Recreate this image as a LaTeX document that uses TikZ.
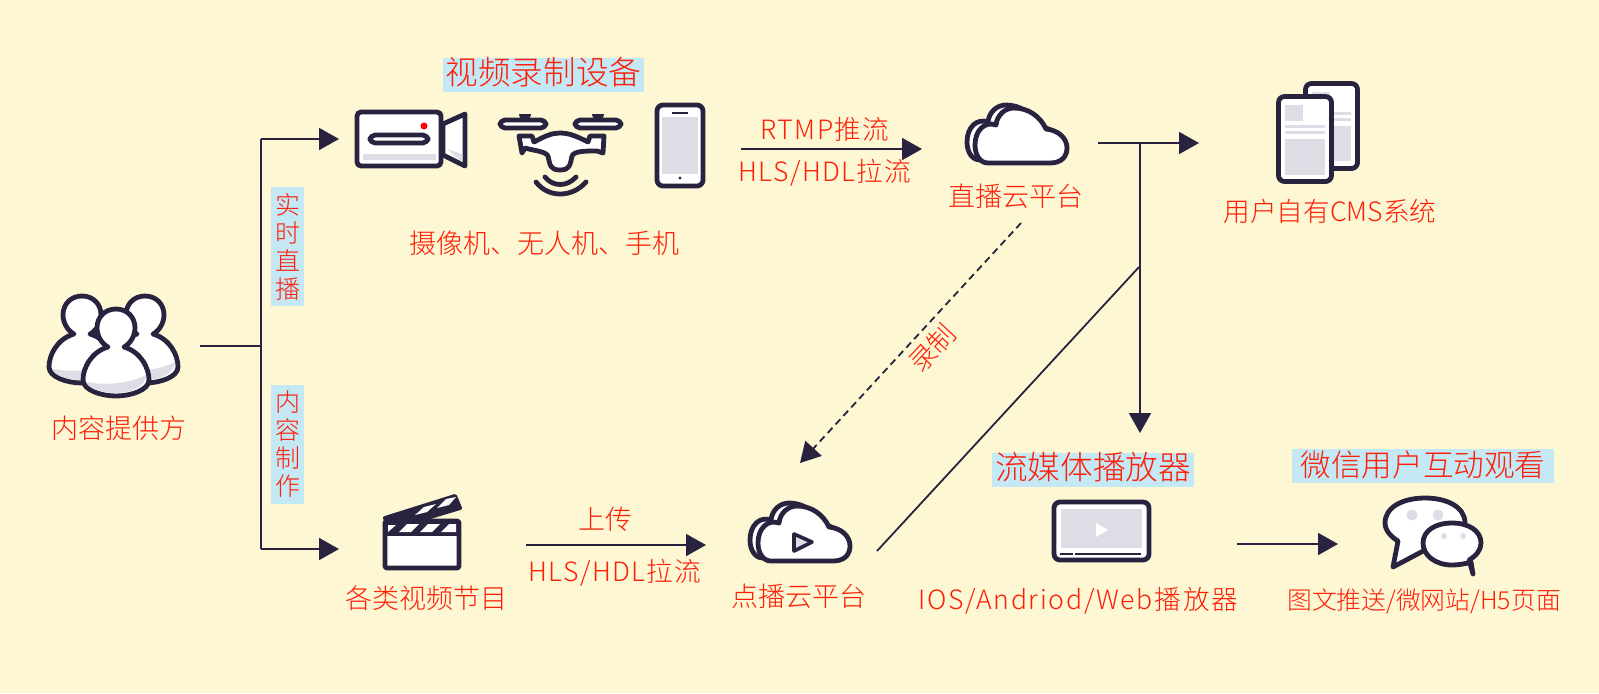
\documentclass[tikz,border=0pt]{standalone}
\usepackage{fontspec}
\setmainfont{Noto Sans CJK SC}[UprightFont=* Light]
\newfontfamily\spacedfont{Noto Sans CJK SC}[UprightFont=* Light,LetterSpace=5]
\usetikzlibrary{arrows.meta}
\definecolor{paper}{HTML}{FDF7D3}
\definecolor{ink}{HTML}{2A2340}
\definecolor{redtext}{HTML}{FF1E08}
\definecolor{skybox}{HTML}{C5E8F5}
\definecolor{mist}{HTML}{DFDCE6}

\tikzset{
    label node/.style={text=redtext,inner sep=0pt,font=\fontsize{13.5}{16}\selectfont,text height=11pt,text depth=2pt},
    wide node/.style={label node,font=\fontsize{13.3}{16}\selectfont\spacedfont},
    small node/.style={label node,font=\fontsize{12.4}{16}\selectfont},
    title node/.style={label node,fill=skybox,font=\fontsize{16.3}{18}\selectfont,text height=12.5pt,text depth=2.5pt,text width=#1,align=center,minimum height=17pt},
    side node/.style={text=redtext,fill=skybox,inner sep=0pt,align=center,minimum width=16.5pt,minimum height=59.5pt,font=\fontsize{12.5}{14}\selectfont},
    flow/.style={draw=ink,line width=0.9pt,-{Triangle[length=10pt,width=11pt]}},
    plain flow/.style={draw=ink,line width=0.9pt},
    icon/.style={draw=ink,line width=2.4pt,line join=round,fill=white},
    person/.pic={
      \path[icon] (-8,19) .. controls (-25,24) and (-33,40) .. (-33,52) .. controls (-33,62) and (-15,68) .. (0,68)
        .. controls (15,68) and (33,62) .. (33,52) .. controls (33,40) and (25,24) .. (8,19)
        .. controls (14,16) and (19,8) .. (19,0) .. controls (19,-11) and (11,-19) .. (0,-19)
        .. controls (-11,-19) and (-19,-11) .. (-19,0) .. controls (-19,8) and (-14,16) .. (-8,19) -- cycle;
      \fill[mist] (-29,54) .. controls (-10,58) and (15,55) .. (30,47) .. controls (30,58) and (15,65) .. (0,65) .. controls (-15,65) and (-29,60) .. (-29,54) -- cycle;
    },
    cloud/.pic={
      \path[icon,shift={(-8,-3)}] (988,163) -- (1050,163) .. controls (1062,163) and (1067,156) .. (1067,148)
        .. controls (1067,138) and (1058,130) .. (1046,129) .. controls (1040,116) and (1028,108) .. (1014,108)
        .. controls (1005,108) and (997,115) .. (996,125) .. controls (985,121) and (975,130) .. (975,145)
        .. controls (975,155) and (980,163) .. (988,163) -- cycle;
      \path[icon] (988,163) -- (1050,163) .. controls (1062,163) and (1067,156) .. (1067,148)
        .. controls (1067,138) and (1058,130) .. (1046,129) .. controls (1040,116) and (1028,108) .. (1014,108)
        .. controls (1005,108) and (997,115) .. (996,125) .. controls (985,121) and (975,130) .. (975,145)
        .. controls (975,155) and (980,163) .. (988,163) -- cycle;
    }
}

\begin{document}
\begin{tikzpicture}[x=0.5pt,y=-0.5pt]
    \fill[paper] (0,0) rectangle (1599,693);

    % connector ends
    \coordinate (src) at (200,346);
    \coordinate (hub) at (261,346);
    \coordinate (hubtop) at (261,139);
    \coordinate (hubbot) at (261,549);
    \coordinate (camin) at (339,139);
    \coordinate (clapin) at (339,549);
    \coordinate (rtmpa) at (741,149);
    \coordinate (rtmpb) at (922,149);
    \coordinate (livea) at (1098,143);
    \coordinate (cmsin) at (1199,143);
    \coordinate (split) at (1140,143);
    \coordinate (playerin) at (1140,433);
    \coordinate (diagtop) at (1139,267);
    \coordinate (diagbot) at (877,551);
    \coordinate (dasha) at (1021,223);
    \coordinate (dashb) at (800,463);
    \coordinate (upa) at (526,545);
    \coordinate (upb) at (706,545);
    \coordinate (wxa) at (1237,544);
    \coordinate (wxb) at (1338,544);

    % people
    \pic at (82,315) {person};
    \pic at (145,315) {person};
    \pic at (116,328) {person};

    % camera
    \path[icon,rounded corners=2pt] (357,112) rectangle (441,166);
    \fill[mist] (363,154) rectangle (436,160);
    \path[icon] (443,124) -- (465,114) -- (465,166) -- (443,155) -- cycle;
    \fill[mist] (447,149) -- (462,154) -- (462,162) -- cycle;
    \path[icon,rounded corners=2.6pt] (370,135) rectangle (428,143);
    \fill[red] (424,126) circle[radius=3.5];

    % drone
    \path[icon,rounded corners=2.5pt] (500,120) rectangle (546,128);
    \path[icon,rounded corners=2.5pt] (575,120) rectangle (621,128);
    \fill[ink] (519,114) arc[start angle=180,end angle=0,radius=6] -- cycle;
    \fill[ink] (592,114) arc[start angle=180,end angle=0,radius=6] -- cycle;
    \path[icon] (519,136) -- (532,136) -- (534,142) .. controls (545,136) and (552,133) .. (560,133)
      .. controls (570,133) and (578,137) .. (588,142) -- (590,136) -- (604,136) -- (603,153) -- (597,151)
      .. controls (585,151) and (574,151) .. (572,156) .. controls (570,165) and (570,170) .. (560,170)
      .. controls (550,170) and (550,165) .. (548,156) .. controls (545,151) and (535,151) .. (525,148) -- (522,153) -- cycle;
    \draw[ink,line width=2.4pt,line cap=round] (545,177) .. controls (553,187) and (567,187) .. (576,177);
    \draw[ink,line width=2.4pt,line cap=round] (536,182) .. controls (548,198) and (572,198) .. (586,182);

    % phone
    \path[icon,rounded corners=3pt] (657,105) rectangle (703,186);
    \fill[mist] (662,117) rectangle (698,174);
    \draw[ink,line width=0.8pt] (672,113) -- (688,113);
    \fill[ink] (680,178) circle[radius=1.6];

    % clouds
    \pic at (0,0) {cloud};
    \pic at (-217,398) {cloud};
    \path[draw=ink,line width=1.8pt,line join=round,fill=mist] (794,534) -- (812,542) -- (794,551) -- cycle;

    % documents
    \path[icon,rounded corners=3pt] (1305.5,83.5) rectangle (1357.5,168.5);
    \fill[mist] (1312,92) rectangle (1330,108);
    \fill[mist] (1312,112) rectangle (1351,115);
    \fill[mist] (1312,118) rectangle (1351,121);
    \fill[mist] (1312,126) rectangle (1351,161);
    \path[icon,rounded corners=3pt] (1278.5,96.5) rectangle (1331.5,181.5);
    \fill[mist] (1285,105) rectangle (1303,121);
    \fill[mist] (1285,125) rectangle (1325,128);
    \fill[mist] (1285,131) rectangle (1325,134);
    \fill[mist] (1285,139) rectangle (1325,175);

    % clapperboard
    \path[draw=ink,line width=2pt,line join=round,fill=ink] (385,518) -- (455,496) -- (460,508) -- (390,529) -- cycle;
    \fill[white] (415,515) -- (424,507) -- (436,504) -- (427,512) -- cycle;
    \fill[white] (437,508) -- (446,499) -- (456,497) -- (449,505) -- cycle;
    \path[icon,rounded corners=1pt] (385,521) rectangle (459,568);
    \fill[ink] (385,521) rectangle (459,536);
    \fill[white] (388,532) -- (388,525) -- (396,525) -- cycle;
    \foreach \sx in {399,420}
      \fill[white] (\sx,532) -- (\sx+8,524) -- (\sx+20,524) -- (\sx+12,532) -- cycle;
    \fill[white] (441,532) -- (449,524) -- (456,524) -- (456,532) -- cycle;

    % tablet
    \path[icon,rounded corners=3pt] (1054,502) rectangle (1149,560);
    \fill[mist] (1061,509) rectangle (1142,548);
    \fill[white] (1096,523) -- (1108,530) -- (1096,537) -- cycle;
    \draw[ink,line width=0.8pt] (1060,554) -- (1073,554) (1075,554) -- (1141,554);

    % chat
    \path[icon] (1393,567) -- (1398,541) .. controls (1388,535) and (1385,528) .. (1385,523)
      .. controls (1385,507) and (1403,498) .. (1425,498) .. controls (1447,498) and (1465,507) .. (1465,523)
      .. controls (1465,539) and (1447,550) .. (1425,550) -- cycle;
    \fill[mist] (1412,515) circle[radius=5.5];
    \fill[mist] (1438,515) circle[radius=5.5];
    \path[icon] (1473,574) -- (1471,562) .. controls (1465,564) and (1458,565) .. (1452,565)
      .. controls (1435,565) and (1423,555) .. (1423,543) .. controls (1423,531) and (1435,523) .. (1452,523)
      .. controls (1469,523) and (1481,531) .. (1481,543) .. controls (1481,550) and (1476,556) .. (1469,560) -- cycle;
    \fill[mist] (1444,536) circle[radius=3];
    \fill[mist] (1463,536) circle[radius=3];

    % texts
    \node[label node] (provider) at (119,429) {内容提供方};
    \node[title node=100.5pt] (devtitle) at (543.5,74.5) {视频录制设备};
    \node[label node] (devices) at (544,244) {摄像机、无人机、手机};
    \node[wide node] (rtmp) at (825,130) {RTMP推流};
    \node[wide node] (pulltop) at (825,172) {HLS/HDL拉流};
    \node[label node] (live) at (1016,197) {直播云平台};
    \node[label node,font=\fontsize{13.3}{16}\selectfont] (cms) at (1330,212) {用户自有CMS系统};
    \node[side node] (liveside) at (287.5,246.5) {实\\时\\直\\播};
    \node[side node] (makeside) at (287.5,444) {内\\容\\制\\作};
    \node[label node,rotate=47] (rec) at (933,349) {录制};
    \node[label node] (programs) at (426,599) {各类视频节目};
    \node[label node] (upload) at (605,520) {上传};
    \node[wide node] (pullbot) at (615,572) {HLS/HDL拉流};
    \node[label node] (vod) at (799,597) {点播云平台};
    \node[title node=101pt] (playertitle) at (1093,469.5) {流媒体播放器};
    \node[wide node,font=\fontsize{13.3}{16}\selectfont\spacedfont\addfontfeature{LetterSpace=6.5}] (players) at (1078,600) {IOS/Andriod/Web播放器};
    \node[title node=131pt,font=\fontsize{15.3}{18}\selectfont] (wxtitle) at (1423,466) {微信用户互动观看};
    \node[small node] (wxpages) at (1424,600) {图文推送/微网站/H5页面};

    % connectors
    \draw[plain flow] (src) -- (hub);
    \draw[plain flow] (hubtop) -- (hubbot);
    \draw[flow] (hubtop) -- (camin);
    \draw[flow] (hubbot) -- (clapin);
    \draw[flow] (rtmpa) -- (rtmpb);
    \draw[flow] (livea) -- (cmsin);
    \draw[flow] (split) -- (playerin);
    \draw[plain flow] (diagbot) -- (diagtop);
    \draw[flow,dash pattern=on 3.5pt off 2.3pt] (dasha) -- (dashb);
    \draw[flow] (upa) -- (upb);
    \draw[flow] (wxa) -- (wxb);
\end{tikzpicture}
\end{document}
